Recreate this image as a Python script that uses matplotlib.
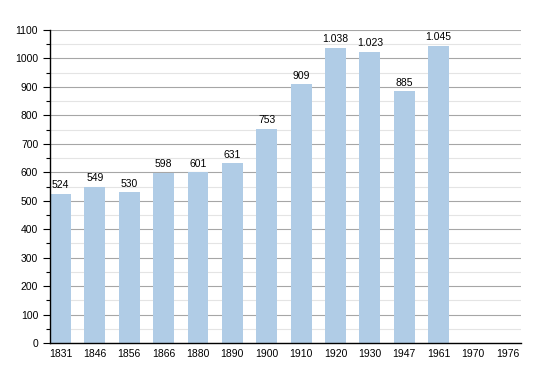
import matplotlib
matplotlib.use("Agg")
from matplotlib import pyplot as plt
from matplotlib.ticker import MultipleLocator

plt.rcParams["font.family"] = ["Liberation Sans", "DejaVu Sans"]

years = ["1831", "1846", "1856", "1866", "1880", "1890", "1900",
         "1910", "1920", "1930", "1947", "1961", "1970", "1976"]
population = [524, 549, 530, 598, 601, 631, 753, 909, 1038, 1023, 885, 1045]
labels = ["524", "549", "530", "598", "601", "631", "753",
          "909", "1.038", "1.023", "885", "1.045"]


def main():
    fig = plt.figure(figsize=(5.5, 3.73), dpi=100)
    ax = fig.add_axes([0.0909, 0.0804, 0.856, 0.8392])

    x = list(range(len(years)))
    bars = ax.bar(x[:len(population)], population, width=0.61,
                  color="#b0cce6", zorder=3)
    for b, lab in zip(bars, labels):
        ax.text(b.get_x() + b.get_width() / 2, b.get_height() + 12, lab,
                ha="center", va="bottom", fontsize=7.5, zorder=4)

    ax.set_xlim(-0.305, 13.39)
    ax.set_ylim(0, 1100)
    ax.set_xticks(x)
    ax.set_xticklabels(years, fontsize=7.5)
    ax.yaxis.set_major_locator(MultipleLocator(100))
    ax.yaxis.set_minor_locator(MultipleLocator(50))
    ax.tick_params(axis="y", which="major", labelsize=7.5, length=5, width=0.8)
    ax.tick_params(axis="y", which="minor", length=3, width=0.8)
    ax.tick_params(axis="x", length=0, pad=4)
    ax.grid(axis="y", which="major", color="#a6a6a6", linewidth=0.8, zorder=0)
    ax.grid(axis="y", which="minor", color="#e4e4e4", linewidth=0.8, zorder=0)
    for s in ["top", "right"]:
        ax.spines[s].set_visible(False)
    ax.spines["left"].set_linewidth(1.0)
    ax.spines["bottom"].set_linewidth(1.0)
    ax.spines["left"].set_zorder(5)
    ax.spines["bottom"].set_zorder(5)

    plt.savefig("out.png", dpi=100)


if __name__ == "__main__":
    main()
